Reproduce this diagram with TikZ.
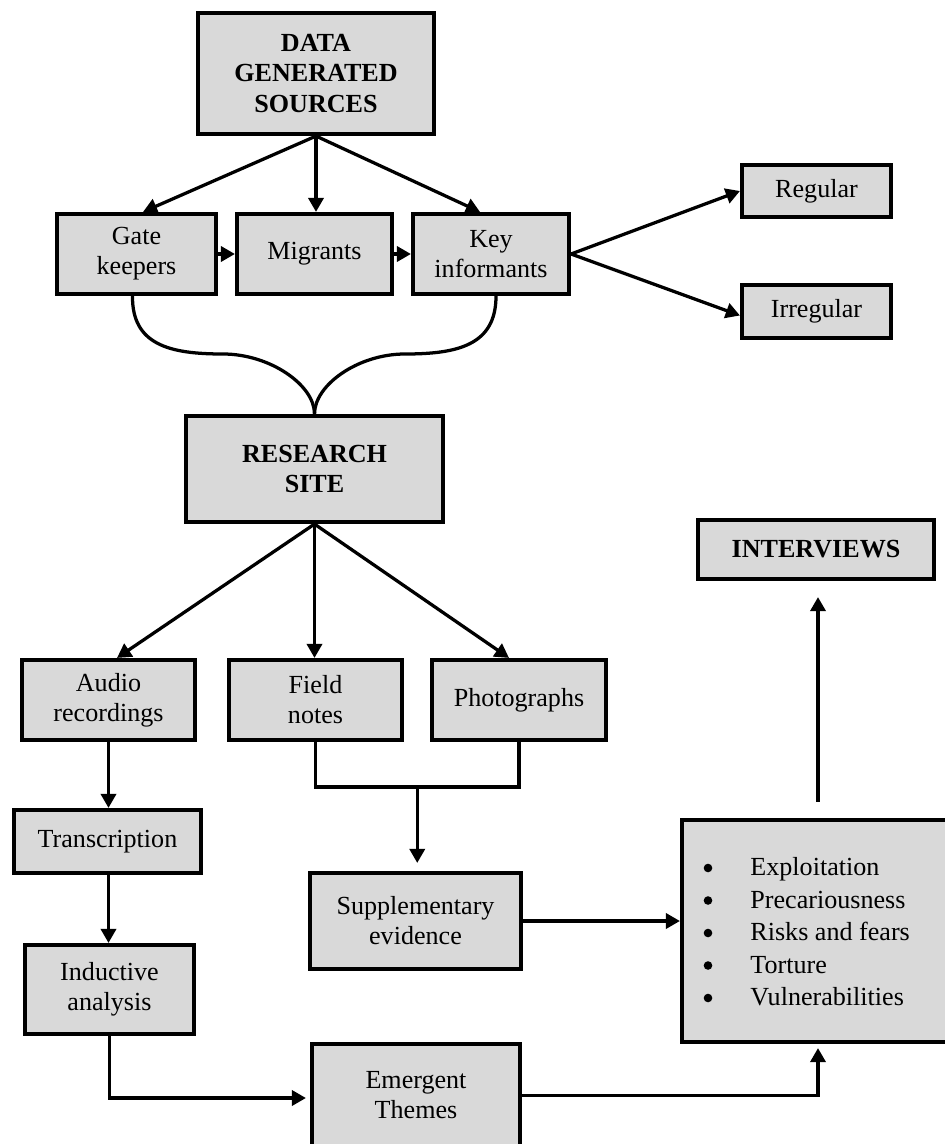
\documentclass[tikz,border=0pt]{standalone}
\usepackage{fontspec}
\setmainfont{Liberation Serif}
\usetikzlibrary{arrows.meta,calc}
\definecolor{boxgray}{HTML}{D9D9D9}
\tikzset{
  box/.style={draw=black, fill=boxgray, line width=1.9pt, inner sep=0pt,
    align=center, font={\fontsize{12}{13.8}\selectfont}},
  sz/.style 2 args={minimum width=#1*0.46pt, minimum height=#2*0.46pt},
  head/.style={font={\fontsize{12}{14}\selectfont\bfseries}},
  link/.style={line width=1.5pt},
  arr/.style={link, -{Triangle[length=6.5pt,width=7pt]}},
  itemtext/.style={anchor=base west, inner sep=0pt, font={\fontsize{12}{15}\selectfont}},
  dot/.style={fill=black},
}
\begin{document}
\begin{tikzpicture}[x=0.46pt,y=-0.46pt]
\useasboundingbox (0,0) rectangle (945,1144);
\clip (0,0) rectangle (945,1144);
\fill[white] (0,0) rectangle (945,1144);

% top level
\node[box, head, sz={236}{121}] (data) at (316,73.5) {DATA\\GENERATED\\SOURCES};
\node[box, sz={159}{80}] (gate) at (136.5,254) {Gate\\keepers};
\node[box, sz={155}{80}] (mig) at (314.5,254) {Migrants};
\node[box, sz={156}{80}] (key) at (491,254) {Key\\informants};
\node[box, sz={149}{52}] (reg) at (816.5,191) {Regular};
\node[box, sz={149}{53}] (irr) at (816.5,311.5) {Irregular};

% research site and its outputs
\node[box, head, sz={257}{106}] (rs) at (314.5,469) {RESEARCH\\SITE};
\node[box, sz={173}{80}] (audio) at (108.5,700) {Audio\\recordings};
\node[box, sz={173}{80}] (field) at (315.5,700) {Field\\notes};
\node[box, sz={174}{80}] (photo) at (519,700) {Photographs};
\node[box, head, sz={236}{59}] (intv) at (816,549.5) {INTERVIEWS};

% analysis chain
\node[box, sz={187}{63}] (trans) at (107.5,841.5) {Transcription};
\node[box, sz={169}{89}] (induct) at (109.5,989.5) {Inductive\\analysis};
\node[box, sz={211}{96}] (supp) at (415.5,921) {Supplementary\\evidence};
\node[box, sz={208}{103}] (emerg) at (416,1095.5) {Emergent\\Themes};
\node[box, sz={272}{222}] (themes) at (818,931) {};
\foreach \t [count=\i from 0] in {Exploitation,Precariousness,Risks and fears,Torture,Vulnerabilities}{
  \fill[dot] (708,{868+32.5*\i}) circle [radius=4.3];
  \node[itemtext] (item\i) at (750,{875.7+32.5*\i}) {\t};
}

% connectors: sources
\draw[arr] (data.south) -- ($(gate.north)+(6.5,0)$);
\draw[arr] (data.south) -- (data.south |- mig.north);
\draw[arr] (data.south) -- ($(key.north)+(-11,0)$);
\draw[arr] (gate.east) -- (mig.west);
\draw[arr] (mig.east) -- (key.west);
\draw[arr] (key.east) -- (reg.west);
\draw[arr] (key.east) -- ($(irr.west)+(0,4)$);

% brace joining gate keepers and key informants into the research site
\draw[link] ($(gate.south)+(-4,0)$) .. controls (132,345) and (170,354) .. (223,354)
  .. controls (270,354) and (314.5,385) .. (rs.north);
\draw[link] ($(key.south)+(5,0)$) .. controls (496,345) and (458,354) .. (405,354)
  .. controls (358,354) and (314.5,385) .. (rs.north);

% connectors: research site
\draw[arr] (rs.south) -- ($(audio.north)+(8.5,0)$);
\draw[arr] (rs.south) -- (rs.south |- field.north);
\draw[arr] (rs.south) -- ($(photo.north)+(-10,0)$);

% audio branch
\draw[arr] (audio.south) -- (audio.south |- trans.north);
\draw[arr] (audio.south |- trans.south) -- (audio.south |- induct.north);
\draw[arr] (induct.south) |- ($(emerg.west)+(-4,2.5)$);

% field notes and photographs
\coordinate (fpmid) at ($(field.south)!0.5!(photo.south)+(0,45)$);
\draw[link] (field.south) -- (field.south |- fpmid) -- (photo.south |- fpmid) -- (photo.south);
\draw[arr] (fpmid) -- ($(fpmid |- supp.north)+(0,-8)$);

% into the themes box and on to interviews
\draw[arr] (supp.east) -- (supp.east -| themes.west);
\draw[arr] (emerg.east) -| ($(themes.south)+(0,4)$);
\draw[arr] ($(themes.north)+(0,-16)$) -- ($(themes.north |- intv.south)+(0,16)$);
\end{tikzpicture}
\end{document}
